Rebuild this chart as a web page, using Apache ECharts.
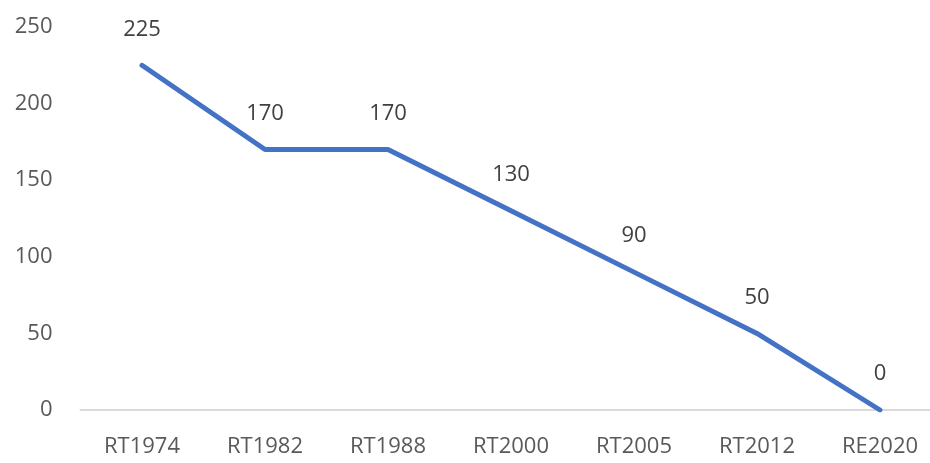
<!DOCTYPE html>
<html><head><meta charset="utf-8">
<script src="https://cdn.jsdelivr.net/npm/echarts@6/dist/echarts.min.js"></script>
<style>html,body{margin:0;padding:0;background:#fff}#c{width:930px;height:463px}</style>
</head><body><div id="c"></div>
<script>
const categories = ['RT1974','RT1982','RT1988','RT2000','RT2005','RT2012','RE2020'];
const values = [225,170,170,130,90,50,0];
const yTicks = [0,50,100,150,200,250];

const chart = echarts.init(document.getElementById('c'), null, {renderer:'canvas'});
const font = 'Open Sans';
chart.setOption({
  animation:false,
  grid:{left:80.5, top:27, right:-11.5, bottom:53, containLabel:false, outerBoundsMode:'none'},
  xAxis:{type:'category', data:categories, boundaryGap:true,
    axisLine:{lineStyle:{color:'#d9d9d9', width:2}},
    axisTick:{show:false},
    axisLabel:{color:'#595959', fontFamily:font, fontSize:22, margin:26, interval:0}},
  yAxis:{type:'value', min:yTicks[0], max:yTicks[yTicks.length-1], interval:50,
    axisLine:{show:false}, axisTick:{show:false}, splitLine:{show:false},
    axisLabel:{color:'#595959', fontFamily:font, fontSize:22, margin:28}},
  series:[{type:'line', data:values, showSymbol:true, symbol:'circle', symbolSize:2,
    itemStyle:{color:'rgba(0,0,0,0)', borderWidth:0},
    lineStyle:{color:'#4472C4', width:5, join:'round', cap:'round'},
    label:{show:true, position:'top', distance:24, color:'#404040', fontFamily:font, fontSize:22}}]
});
</script></body></html>
